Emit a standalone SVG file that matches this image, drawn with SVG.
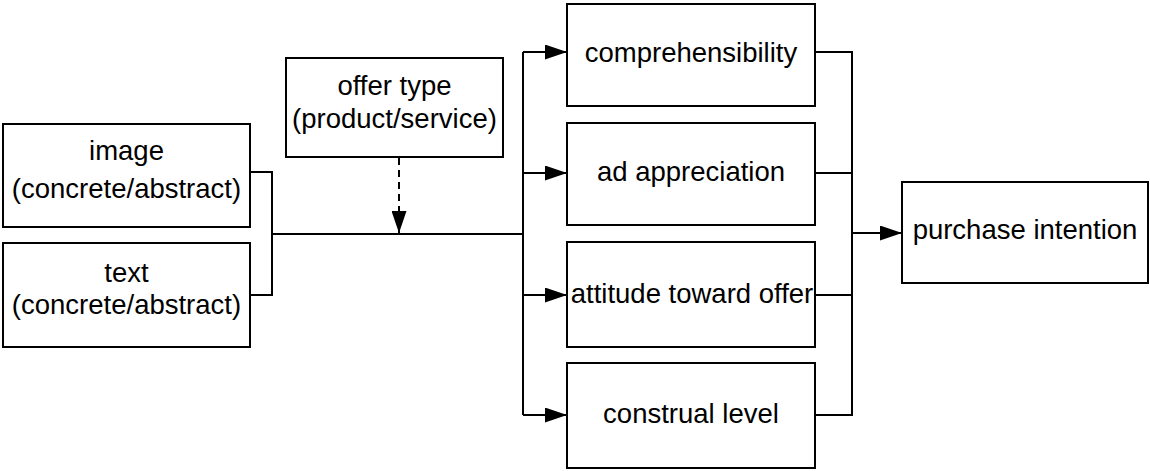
<svg xmlns="http://www.w3.org/2000/svg" width="1150" height="471" viewBox="0 0 1150 471">
<style>
.box{fill:#fff;stroke:#000;stroke-width:2}
.t{font-family:"Liberation Sans",Arial,sans-serif;font-size:27.5px;fill:#000;text-anchor:middle}
.c{fill:none;stroke:#000;stroke-width:2}
.d{fill:none;stroke:#000;stroke-width:2;stroke-dasharray:7 5}
</style>
<defs>
<marker id="ah" viewBox="0 0 22 15" refX="22" refY="7.5" markerWidth="22" markerHeight="15" markerUnits="userSpaceOnUse" orient="auto">
<path d="M0,0 L22,7.5 L0,15 Z" fill="#000"/>
</marker>
</defs>
<rect width="1150" height="471" fill="#fff"/>
<g id="connectors">
<polyline class="c" points="250,172 272,172 272,295 250,295"/>
<line class="c" x1="272" y1="234" x2="523" y2="234"/>
<line class="c" x1="523" y1="52" x2="523" y2="415"/>
<line class="c" x1="523" y1="52" x2="567" y2="52" marker-end="url(#ah)"/>
<line class="c" x1="523" y1="173" x2="567" y2="173" marker-end="url(#ah)"/>
<line class="c" x1="523" y1="295" x2="567" y2="295" marker-end="url(#ah)"/>
<line class="c" x1="523" y1="415" x2="567" y2="415" marker-end="url(#ah)"/>
<line class="d" x1="399" y1="158" x2="399" y2="233" marker-end="url(#ah)"/>
<polyline class="c" points="815,52 852,52 852,415 815,415"/>
<line class="c" x1="815" y1="173" x2="852" y2="173"/>
<line class="c" x1="815" y1="295" x2="852" y2="295"/>
<line class="c" x1="852" y1="233" x2="902" y2="233" marker-end="url(#ah)"/>
</g>
<g id="image">
<rect class="box" x="3" y="124" width="247" height="103"/>
<text class="t" x="126.5" y="160">image</text>
<text class="t" x="126.5" y="198">(concrete/abstract)</text>
</g>
<g id="text">
<rect class="box" x="3" y="243" width="247" height="104"/>
<text class="t" x="126.5" y="282">text</text>
<text class="t" x="126.5" y="314">(concrete/abstract)</text>
</g>
<g id="offer">
<rect class="box" x="286" y="58" width="217" height="99"/>
<text class="t" x="394.5" y="95">offer type</text>
<text class="t" x="394.5" y="128">(product/service)</text>
</g>
<g id="comprehensibility">
<rect class="box" x="567" y="4" width="248" height="102"/>
<text class="t" x="691" y="62">comprehensibility</text>
</g>
<g id="ad">
<rect class="box" x="567" y="123" width="248" height="102"/>
<text class="t" x="691" y="181">ad appreciation</text>
</g>
<g id="attitude">
<rect class="box" x="567" y="242" width="248" height="105"/>
<text class="t" x="692" y="303">attitude toward offer</text>
</g>
<g id="construal">
<rect class="box" x="567" y="363" width="248" height="105"/>
<text class="t" x="691" y="423">construal level</text>
</g>
<g id="purchase">
<rect class="box" x="902" y="182" width="246" height="101"/>
<text class="t" x="1025" y="239">purchase intention</text>
</g>
</svg>
